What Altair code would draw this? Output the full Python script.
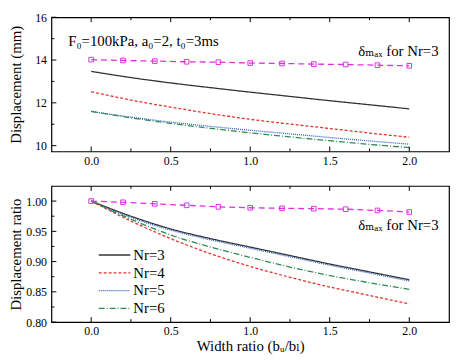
import altair as alt
import pandas as pd

# ---------------- data ----------------
x_curve = [0.0, 0.25, 0.5, 0.75, 1.0, 1.25, 1.5, 1.75, 2.0]
disp_nr3 = [13.47, 13.18, 12.93, 12.71, 12.50, 12.30, 12.10, 11.91, 11.72]
disp_nr4 = [12.52, 12.13, 11.80, 11.50, 11.23, 11.01, 10.80, 10.59, 10.39]
disp_nr5 = [11.60, 11.33, 11.10, 10.90, 10.72, 10.55, 10.38, 10.22, 10.07]
disp_nr6 = [11.60, 11.30, 11.04, 10.81, 10.60, 10.41, 10.23, 10.06, 9.91]
ratio_nr3 = [1.000, 0.975, 0.954, 0.938, 0.924, 0.910, 0.896, 0.883, 0.870]
ratio_nr4 = [1.000, 0.967, 0.938, 0.913, 0.892, 0.874, 0.858, 0.844, 0.830]
ratio_nr5 = [1.000, 0.973, 0.952, 0.936, 0.922, 0.908, 0.894, 0.881, 0.868]
ratio_nr6 = [1.000, 0.970, 0.944, 0.924, 0.907, 0.891, 0.877, 0.865, 0.854]

x_max = [0.0, 0.2, 0.4, 0.6, 0.8, 1.0, 1.2, 1.4, 1.6, 1.8, 2.0]
disp_max = [14.02, 13.98, 13.95, 13.92, 13.90, 13.86, 13.84, 13.81, 13.79, 13.76, 13.73]
ratio_max = [1.000, 0.998, 0.9955, 0.993, 0.9905, 0.989, 0.988, 0.9875, 0.9866, 0.9845, 0.982]

series_names = ["Nr=3", "Nr=4", "Nr=5", "Nr=6"]
series_colors = ["#333333", "#e3332b", "#2a5cc2", "#2e8b57"]
series_dashes = [[1, 0], [3, 2], [1, 1], [6, 2, 1, 2]]

x_major = [0.0, 0.5, 1.0, 1.5, 2.0]
x_minor = [0.25, 0.75, 1.25, 1.75]
y1_major = [10, 12, 14, 16]
y1_minor = [11, 13, 15]
y2_major = [0.80, 0.85, 0.90, 0.95, 1.00]
y2_minor = [0.825, 0.875, 0.925, 0.975]

top_note = "F₀=100kPa, a₀=2, t₀=3ms"
max_note = "δₘₐₓ for Nr=3"
x_title = "Width ratio (bᵤ/bₗ)"

# ---------------- layout / style ----------------
FONT = "Times New Roman, Liberation Serif, DejaVu Serif, serif"
W = 403
H1 = 136
H2 = 138
MAGENTA = "#e030e0"


def xdef(title):
    return alt.X(
        "x:Q",
        scale=alt.Scale(domain=[-0.25, 2.25], nice=False, zero=False),
        axis=alt.Axis(values=x_major, format=".1f", title=title, ticks=False,
                      domain=False, grid=False, labelFont=FONT, labelFontSize=12,
                      labelColor="black", labelPadding=4, titleFont=FONT,
                      titleFontSize=15, titleFontWeight="normal",
                      titleColor="black", titlePadding=2),
    )


def ydef(domain, values, fmt, title):
    return alt.Y(
        "y:Q",
        scale=alt.Scale(domain=domain, nice=False, zero=False),
        axis=alt.Axis(values=values, format=fmt, title=title, ticks=False,
                      domain=False, grid=False, labelFont=FONT, labelFontSize=12,
                      labelColor="black", labelPadding=5, minExtent=26,
                      maxExtent=26, titleFont=FONT, titleFontSize=15,
                      titleFontWeight="normal", titleColor="black",
                      titlePadding=2),
    )


def curves_df(values_list):
    rows = []
    for name, vals in zip(series_names, values_list):
        for xv, yv in zip(x_curve, vals):
            rows.append({"x": xv, "y": yv, "series": name})
    return pd.DataFrame(rows)


def panel(curve_vals, max_vals, ydomain, ymajor, yminor, yfmt, ytitle,
          xtitle, height, note_y, extra_layers):
    X = xdef(xtitle)
    Y = ydef(ydomain, ymajor, yfmt, ytitle)
    lines = alt.Chart(curves_df(curve_vals)).mark_line(
        strokeWidth=1.3, interpolate="monotone").encode(
        x=X, y=Y,
        color=alt.Color("series:N", scale=alt.Scale(domain=series_names,
                        range=series_colors), legend=None),
        strokeDash=alt.StrokeDash("series:N", scale=alt.Scale(
            domain=series_names, range=series_dashes), legend=None),
        detail="series:N",
    )
    mdf = pd.DataFrame({"x": x_max, "y": max_vals})
    mline = alt.Chart(mdf).mark_line(color=MAGENTA, strokeWidth=1.3,
                                     strokeDash=[6, 4]).encode(x=X, y=Y)
    mpts = alt.Chart(mdf).mark_point(shape="square", filled=False, size=22,
                                     color=MAGENTA, strokeWidth=1,
                                     opacity=1).encode(x=X, y=Y)
    # inward ticks
    xmaj = pd.DataFrame({"x": x_major})
    xmin = pd.DataFrame({"x": x_minor})
    ymaj = pd.DataFrame({"y": ymajor})
    ymin = pd.DataFrame({"y": yminor})
    tk = dict(color="black", strokeWidth=1)
    ticks = [
        alt.Chart(xmaj).mark_rule(**tk).encode(x=X, y=alt.value(height), y2=alt.value(height - 5)),
        alt.Chart(xmin).mark_rule(**tk).encode(x=X, y=alt.value(height), y2=alt.value(height - 3)),
        alt.Chart(xmaj).mark_rule(**tk).encode(x=X, y=alt.value(0), y2=alt.value(5)),
        alt.Chart(xmin).mark_rule(**tk).encode(x=X, y=alt.value(0), y2=alt.value(3)),
        alt.Chart(ymaj).mark_rule(**tk).encode(y=Y, x=alt.value(0), x2=alt.value(5)),
        alt.Chart(ymin).mark_rule(**tk).encode(y=Y, x=alt.value(0), x2=alt.value(3)),
    ]
    one = pd.DataFrame({"a": [0]})
    note = alt.Chart(one).mark_text(font=FONT, fontSize=15, align="left",
                                    baseline="middle", color="black").encode(
        text=alt.value(max_note), x=alt.value(311), y=alt.value(note_y))
    return alt.layer(lines, mline, mpts, *ticks, note, *extra_layers).properties(
        width=W, height=height)


one = pd.DataFrame({"a": [0]})
top_text = alt.Chart(one).mark_text(font=FONT, fontSize=15, align="left",
                                    baseline="middle", color="black").encode(
    text=alt.value(top_note), x=alt.value(17), y=alt.value(24))

legend_layers = []
for i, (name, col, dash) in enumerate(zip(series_names, series_colors, series_dashes)):
    ry = 70 + 18 * i
    legend_layers.append(
        alt.Chart(one).mark_rule(color=col, strokeWidth=1.3, strokeDash=dash).encode(
            x=alt.value(48), x2=alt.value(80), y=alt.value(ry)))
    legend_layers.append(
        alt.Chart(one).mark_text(font=FONT, fontSize=15, align="left",
                                 baseline="middle", color="black").encode(
            text=alt.value(name), x=alt.value(83), y=alt.value(ry)))

top = panel([disp_nr3, disp_nr4, disp_nr5, disp_nr6], disp_max, [9.73, 16.0],
            y1_major, y1_minor, "d", "Displacement (mm)", None, H1, 34, [top_text])
bottom = panel([ratio_nr3, ratio_nr4, ratio_nr5, ratio_nr6], ratio_max,
               [0.80, 1.025], y2_major, y2_minor, ".2f", "Displacement ratio",
               x_title, H2, 40, legend_layers)

chart = alt.vconcat(top, bottom, spacing=17).resolve_scale(
    x="independent", y="independent", color="independent",
    strokeDash="independent").properties(
    padding={"left": 0, "top": 0, "right": 0, "bottom": 0},
    background="white").configure_view(stroke="black", strokeWidth=1.2)

chart.save("out.html", embed_options={"renderer": "svg", "actions": False})
